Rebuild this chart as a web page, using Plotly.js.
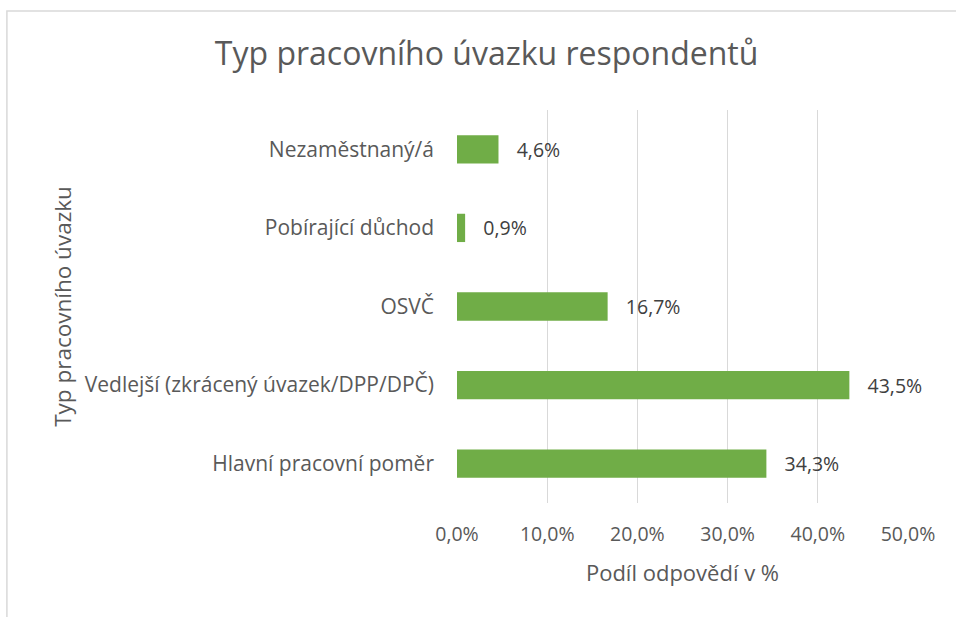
<!DOCTYPE html>
<html>
<head>
<meta charset="utf-8">
<script src="https://cdn.plot.ly/plotly-3.0.1.min.js"></script>
<style>
html,body{margin:0;padding:0;background:#fff;}
#chart{width:956px;height:617px;}
</style>
</head>
<body>
<div id="chart"></div>
<script>
const categories = [
  "Nezaměstnaný/á",
  "Pobírající důchod",
  "OSVČ",
  "Vedlejší (zkrácený úvazek/DPP/DPČ)",
  "Hlavní pracovní poměr"
];
const values = [4.6, 0.9, 16.7, 43.5, 34.3];
const tickValues = [0, 10, 20, 30, 40, 50];
const tickLabels = ["0,0%", "10,0%", "20,0%", "30,0%", "40,0%", "50,0%"];

const font = "Open Sans, Noto Sans, sans-serif";
const grey = "#595959";

const labels = values.map(v => "\u00a0\u00a0\u00a0" + v.toFixed(1).replace(".", ",") + "%");

const trace = {
  type: "bar",
  orientation: "h",
  x: values,
  y: categories,
  marker: {color: "#70ad47"},
  width: 0.36,
  text: labels,
  textposition: "outside",
  cliponaxis: false,
  textfont: {family: font, size: 19.5, color: "#404040"},
  hoverinfo: "skip"
};

const layout = {
  width: 956,
  height: 617,
  margin: {l: 457, r: 48, t: 110, b: 114},
  paper_bgcolor: "#ffffff",
  plot_bgcolor: "#ffffff",
  showlegend: false,
  title: {
    text: "Typ pracovního úvazku respondentů",
    font: {family: font, size: 32, color: grey},
    x: 0.509, xanchor: "center",
    y: 0.912, yanchor: "middle"
  },
  xaxis: {
    range: [0, 50],
    tickvals: tickValues,
    ticktext: tickLabels,
    showgrid: true,
    gridcolor: "#d9d9d9",
    gridwidth: 1,
    zeroline: false,
    showline: false,
    ticks: "",
    tickfont: {family: font, size: 19.5, color: grey},
    ticklabelstandoff: 17,
    title: {
      text: "Podíl odpovědí v %",
      font: {family: font, size: 22, color: grey},
      standoff: 20
    },
    fixedrange: true
  },
  yaxis: {
    type: "category",
    autorange: "reversed",
    showgrid: false,
    zeroline: false,
    showline: false,
    ticks: "",
    tickfont: {family: font, size: 21, color: grey},
    ticklabelstandoff: 22,
    title: {
      text: "Typ pracovního úvazku",
      font: {family: font, size: 22.5, color: grey},
      standoff: 6
    },
    fixedrange: true
  },
  shapes: [{
    type: "rect",
    xref: "paper", yref: "paper",
    x0: -0.998, x1: 1.5,
    y0: -0.5, y1: 1.252,
    line: {color: "#d9d9d9", width: 1.5},
    fillcolor: "rgba(0,0,0,0)",
    layer: "below"
  }]
};

Plotly.newPlot("chart", [trace], layout, {staticPlot: true});
</script>
</body>
</html>
